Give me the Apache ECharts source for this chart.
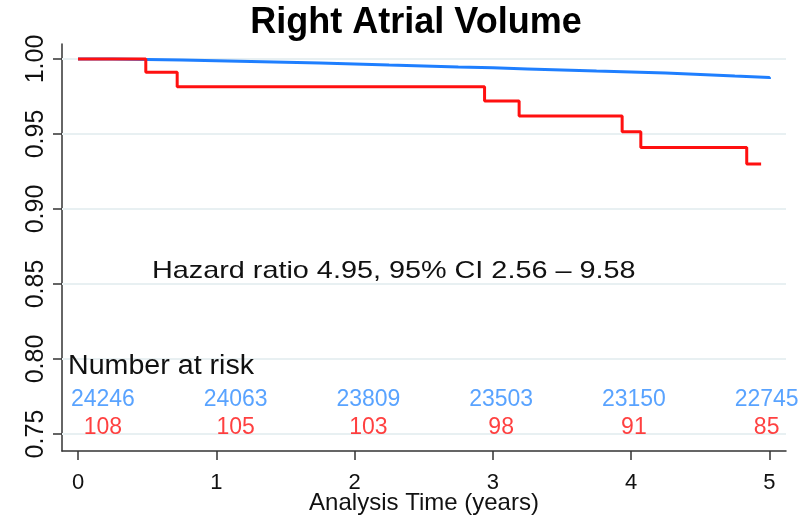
<!DOCTYPE html>
<html>
<head>
<meta charset="utf-8">
<script src="https://cdn.jsdelivr.net/npm/echarts@6/dist/echarts.min.js"></script>
<style>html,body{margin:0;padding:0;background:#fff}#c{width:807px;height:521px}</style>
</head>
<body>
<div id="c"></div>
<script>
// ---- data ----
const titleText = 'Right Atrial Volume';
const xTicks = [0, 1, 2, 3, 4, 5];
const yTicks = [0.75, 0.80, 0.85, 0.90, 0.95, 1.00];
// reference group (blue), survival probability
const blueTimes = [0, 0.25, 0.5, 0.75, 1, 1.25, 1.5, 1.75, 2, 2.25, 2.5, 2.75, 3, 3.25, 3.5, 3.75, 4, 4.25, 4.5, 4.75, 5];
const blueSurv  = [1.0, 0.9997, 0.9993, 0.9989, 0.9984, 0.9979, 0.9973, 0.9967, 0.9960, 0.9954, 0.9947, 0.9941, 0.9934, 0.9927, 0.9920, 0.9914, 0.9907, 0.9897, 0.9886, 0.9876, 0.9866];
// high RA volume group (red)
const redTimes = [0, 0.49, 0.717, 2.94, 3.19, 3.935, 4.07, 4.836, 4.94];
const redSurv  = [1.0, 0.9911, 0.9815, 0.9720, 0.9620, 0.9515, 0.9410, 0.9300, 0.9300];
// numbers at risk
const riskTimes = [0, 1, 2, 3, 4, 5];
const riskBlue = [24246, 24063, 23809, 23503, 23150, 22745];
const riskRed  = [108, 105, 103, 98, 91, 85];
const hazardText = 'Hazard ratio 4.95, 95% CI 2.56 \u2013 9.58';
const riskTitle = 'Number at risk';
const xName = 'Analysis Time (years)';

const FONT = '"Liberation Sans", Arial, sans-serif';
const BLUE = '#1f7fff', BLUE_T = '#2f8cff', RED = '#ff1010';

const zip = (a, b) => a.map((v, i) => [v, b[i]]);
// label placement (layout only): numbers spread slightly differently from the axis ticks
const riskPos = t => 0.18 + t * 0.96;

const chart = echarts.init(document.getElementById('c'), null, {renderer: 'canvas'});
chart.setOption({
  animation: false,
  backgroundColor: '#fff',
  title: {
    text: titleText, left: 411, top: 0, textAlign: 'center',
    textStyle: {fontFamily: FONT, fontWeight: 'bold', fontSize: 36, color: '#000'}
  },
  grid: {left: 62, right: 21, top: 44, bottom: 70, containLabel: false, outerBoundsMode: 'none'},
  xAxis: {
    type: 'value', min: -0.116, max: 5.12,
    axisLine: {show: true, onZero: false, lineStyle: {color: '#333', width: 1.5}},
    axisTick: {show: true, length: 9, customValues: xTicks, lineStyle: {color: '#333', width: 1.5}},
    axisLabel: {customValues: xTicks, fontFamily: FONT, fontSize: 22, color: '#111', margin: 21},
    splitLine: {show: false},
    name: xName, nameLocation: 'middle', nameGap: 40, nameMoveOverlap: false,
    nameTextStyle: {fontFamily: FONT, fontSize: 24, color: '#111'}
  },
  yAxis: {
    type: 'value', min: 0.7387, max: 1.01,
    axisLine: {show: true, onZero: false, lineStyle: {color: '#333', width: 1.5}},
    axisTick: {show: true, length: 9, customValues: yTicks, lineStyle: {color: '#333', width: 1.5}},
    axisLabel: {customValues: yTicks, rotate: 90, fontFamily: FONT, fontSize: 25, color: '#111', margin: 13,
      formatter: v => v.toFixed(2)},
    splitLine: {show: false}
  },
  series: [
    {
      type: 'line', name: 'grid', data: [], silent: true, z: 1,
      markLine: {
        silent: true, symbol: 'none', label: {show: false}, z: 1,
        lineStyle: {color: '#e8f0f2', width: 2, type: 'solid'},
        data: yTicks.map(v => ({yAxis: v}))
      }
    },
    {
      type: 'line', name: 'blue', step: 'end', showSymbol: false, symbol: 'none',
      lineStyle: {color: BLUE, width: 3}, data: zip(blueTimes, blueSurv), z: 8
    },
    {
      type: 'line', name: 'red', step: 'end', showSymbol: false, symbol: 'none',
      lineStyle: {color: RED, width: 3}, data: zip(redTimes, redSurv), z: 9
    },
    {
      type: 'scatter', name: 'riskBlue', symbolSize: 0, silent: true, z: 10,
      data: riskTimes.map((t, i) => ({value: [riskPos(t), 0.7727], label: {formatter: String(riskBlue[i])}})),
      label: {show: true, position: 'inside', fontFamily: FONT, fontSize: 23, color: BLUE_T}
    },
    {
      type: 'scatter', name: 'riskRed', symbolSize: 0, silent: true, z: 10,
      data: riskTimes.map((t, i) => ({value: [riskPos(t), 0.7543], label: {formatter: String(riskRed[i])}})),
      label: {show: true, position: 'inside', fontFamily: FONT, fontSize: 23, color: RED}
    }
  ],
  graphic: [
    {type: 'text', left: 152, top: 259, scaleX: 1.2, z: 100, style: {text: hazardText, font: '24px ' + FONT, fill: '#111'}},
    {type: 'text', left: 68, top: 353, scaleX: 1.06, z: 100, style: {text: riskTitle, font: '27px ' + FONT, fill: '#111'}}
  ]
});
</script>
</body>
</html>
